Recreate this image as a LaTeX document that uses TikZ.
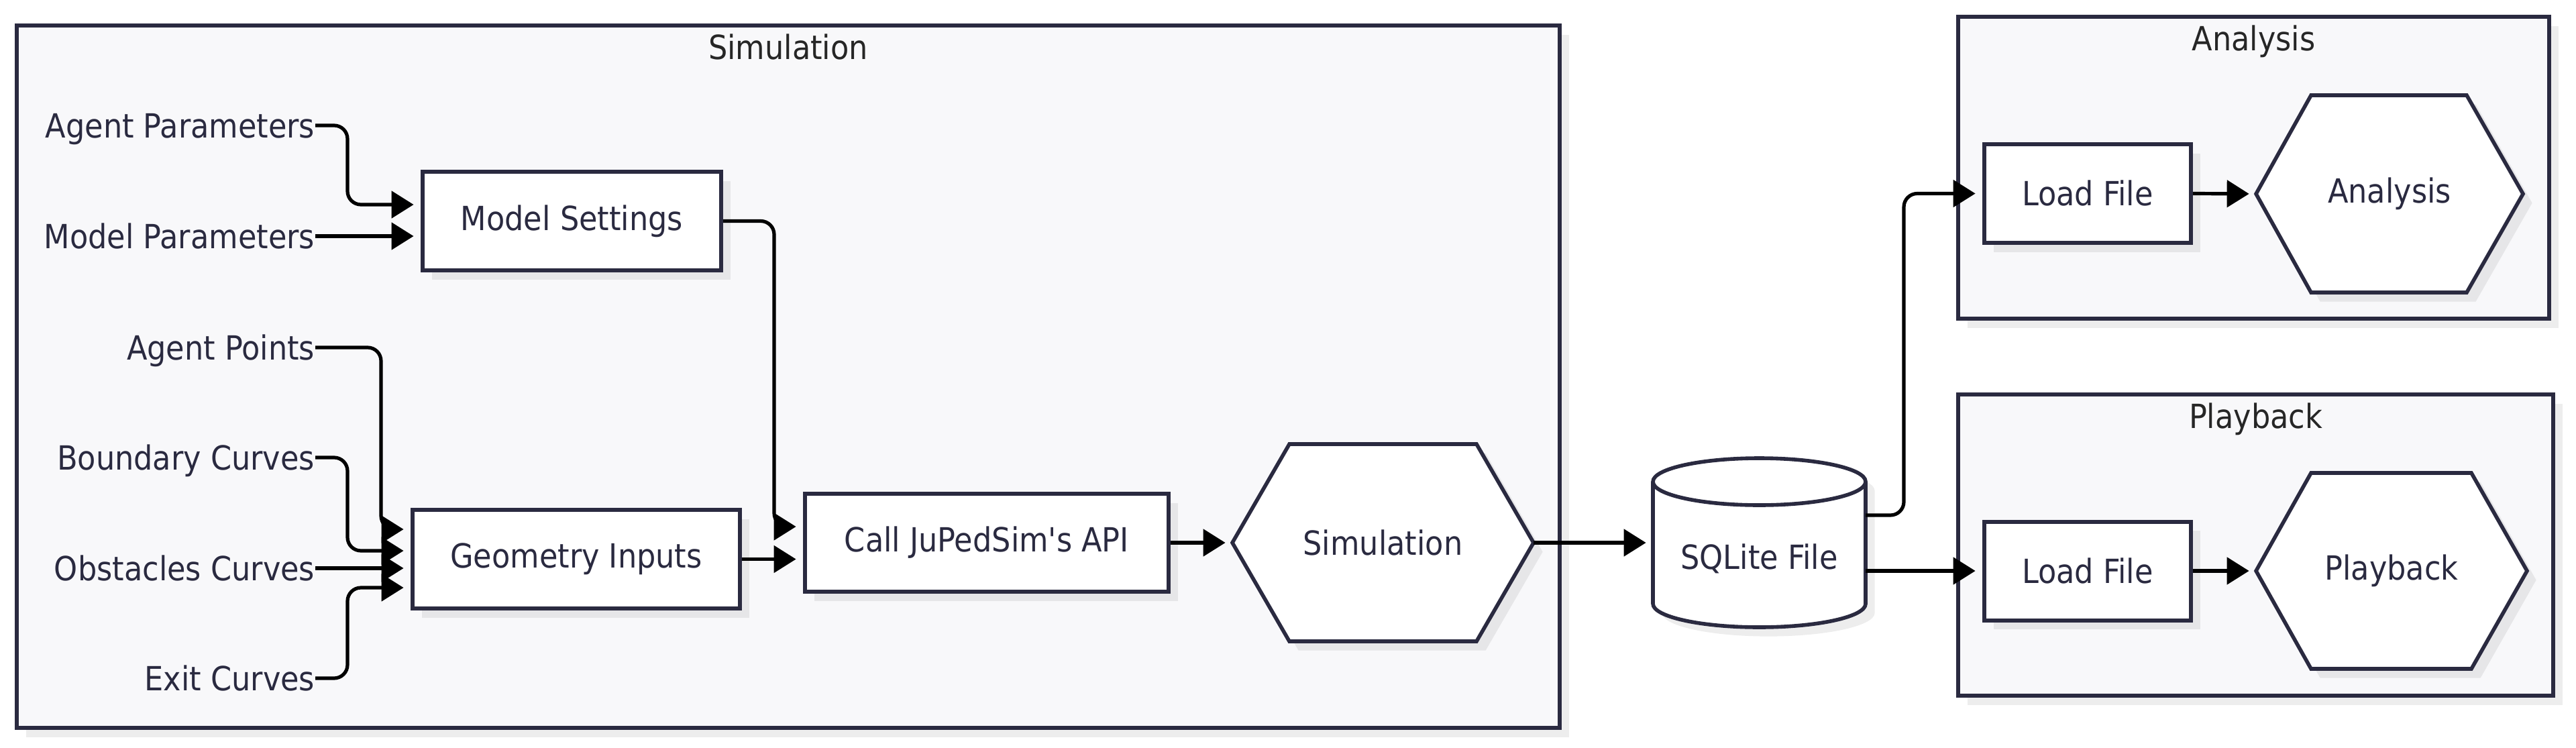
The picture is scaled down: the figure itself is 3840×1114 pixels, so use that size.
\documentclass[tikz,border=0pt]{standalone}
\usepackage{fontspec}
\newfontfamily\fs{DejaVu Sans Condensed}
\usetikzlibrary{arrows.meta,calc,shadows}
\definecolor{navy}{HTML}{2A2A40}
\definecolor{clfill}{HTML}{F8F8FA}
\newcommand\dfont{\fs\fontsize{12.4pt}{14pt}\selectfont}
\pgfdeclarelayer{bg}
\pgfdeclarelayer{shp}
\pgfsetlayers{bg,shp,main}
\begin{document}
\begin{tikzpicture}[x=0.25pt,y=-0.25pt,
  shd/.style={drop shadow={shadow xshift=3.4pt,shadow yshift=-3.4pt,fill=black,opacity=0.07}},
  cluster/.style={shd,draw=navy,line width=1.4pt,fill=clfill,inner sep=0pt,outer sep=0pt},
  box/.style={shd,draw=navy,line width=1.5pt,fill=white,inner sep=0pt,minimum height=36.75pt,font=\dfont,text=navy},
  plain/.style={inner sep=0pt,outer sep=0pt,font=\dfont,text=navy},
  hexshape/.style={shd,draw=navy,line width=1.4pt,fill=white,line join=miter},
  lbl/.style={font=\dfont,text=navy,inner sep=0pt,anchor=east,text height=9pt,text depth=0pt},
  ttl/.style={font=\dfont,text=black!85,inner sep=0pt,text height=9pt,text depth=0pt},
  conn/.style={draw=black,line width=1.3pt,rounded corners=5pt,-{Triangle[length=8.25pt,width=10pt]},shorten >=2.6pt}
]
\useasboundingbox (0,0) rectangle (3840,1114);

% clusters
\begin{pgfonlayer}{bg}
\node[cluster,minimum width=575pt,minimum height=261.75pt] (simc) at (1175,561.5) {};
\node[cluster,minimum width=220.25pt,minimum height=112.5pt] (anac) at (3359.5,250) {};
\node[cluster,minimum width=221.75pt,minimum height=112.25pt] (plac) at (3362.5,812.5) {};
\end{pgfonlayer}
\node[ttl] (simt) at ($(simc.north)+(0,32.5)$) {Simulation};
\node[ttl] (anat) at ($(anac.north)+(0,32.5)$) {Analysis};
\node[ttl] (plat) at ($(plac.north)+(0,32.5)$) {Playback};

% input labels
\node[lbl] (apar) at (470,187) {Agent Parameters};
\node[lbl] (mpar) at (470,352) {Model Parameters};
\node[lbl] (apts) at (470,518) {Agent Points};
\node[lbl] (bnd) at (470,682) {Boundary Curves};
\node[lbl] (obs) at (470,847) {Obstacles Curves};
\node[lbl] (exitc) at (470,1011) {Exit Curves};

% boxes
\node[box,minimum width=111.25pt] (ms) at (852.5,329.5) {Model Settings};
\node[box,minimum width=122pt] (geo) at (859,833.5) {Geometry Inputs};
\node[box,minimum width=135.5pt,minimum height=36.5pt] (call) at (1471,809) {Call JuPedSim's API};
\node[box,minimum width=77pt] (loada) at (3112,288.5) {Load File};
\node[box,minimum width=77pt] (loadp) at (3112,851) {Load File};

% hexagons and cylinder (text nodes; outlines below)
\node[plain,minimum width=112.25pt,minimum height=73.5pt] (sim) at (2061.5,809) {Simulation};
\node[plain,minimum width=99.5pt,minimum height=73.5pt] (ana) at (3562,289) {Analysis};
\node[plain,minimum width=101pt,minimum height=73pt] (play) at (3565,851) {Playback};
\node[plain,minimum width=79.25pt,minimum height=63pt] (sql) at (2622.5,809) {};
\node[plain] (sqlt) at ($(sql.center)+(0,24)$) {SQLite File};

\begin{pgfonlayer}{shp}
\path[hexshape] (sim.west) -- ($(sim.north west)+(85,0)$) -- ($(sim.north east)+(-85,0)$) -- (sim.east) -- ($(sim.south east)+(-85,0)$) -- ($(sim.south west)+(85,0)$) -- cycle;
\path[hexshape] (ana.west) -- ($(ana.north west)+(82,0)$) -- ($(ana.north east)+(-84,0)$) -- (ana.east) -- ($(ana.south east)+(-84,0)$) -- ($(ana.south west)+(82,0)$) -- cycle;
\path[hexshape] (play.west) -- ($(play.north west)+(82,0)$) -- ($(play.north east)+(-83,0)$) -- (play.east) -- ($(play.south east)+(-83,0)$) -- ($(play.south west)+(82,0)$) -- cycle;
\path[hexshape] ($(sql.north west)+(0,35)$) -- ($(sql.south west)+(0,-35)$) arc[start angle=180,end angle=360,x radius=39.625pt,y radius=8.75pt] -- ($(sql.north east)+(0,35)$) arc[start angle=0,end angle=180,x radius=39.625pt,y radius=8.75pt] -- cycle;
\draw[navy,line width=1.4pt] ($(sql.north west)+(0,35)$) arc[start angle=180,end angle=360,x radius=39.625pt,y radius=8.75pt];
\end{pgfonlayer}

% connectors
\draw[conn] (apar.east) -- ++(48,0) |- ($(ms.west)+(0,-24.5)$);
\draw[conn] (mpar.east) -- (mpar.east -| ms.west);
\draw[conn] (ms.east) -- ++(76,0) |- ($(call.west)+(0,-24)$);
\draw[conn] (apts.east) -- ++(98,0) |- ($(geo.west)+(0,-44.5)$);
\draw[conn] (bnd.east) -- ++(48,0) |- ($(geo.west)+(0,-12.5)$);
\draw[conn] (obs.east) -- (obs.east -| geo.west);
\draw[conn] (exitc.east) -- ++(48,0) |- ($(geo.west)+(0,42.5)$);
\draw[conn] (geo.east) -- (geo.east -| call.west);
\draw[conn] (call.east) -- (sim.west);
\draw[conn] (sim.east) -- (sql.west);
\draw[conn] ($(sql.east)+(0,-41)$) -- ++(57,0) |- (loada.west);
\draw[conn] (loadp.west -| sql.east) -- (loadp.west);
\draw[conn] (loada.east) -- (ana.west);
\draw[conn] (loadp.east) -- (play.west);
\end{tikzpicture}
\end{document}
